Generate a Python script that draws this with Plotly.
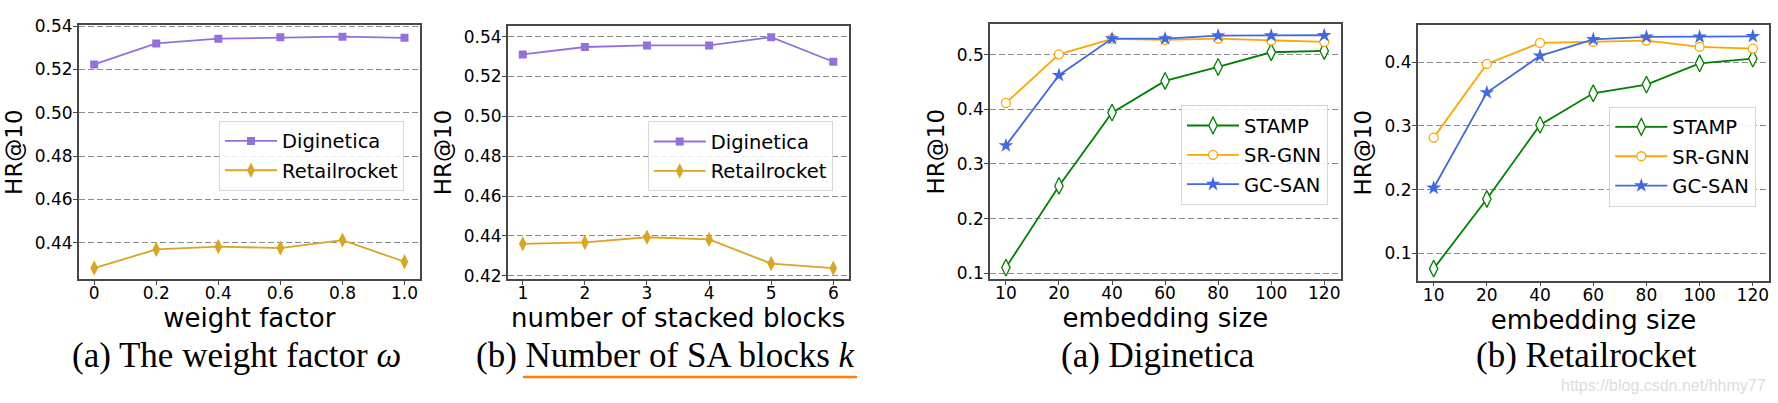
import plotly.graph_objects as go

# ---------------- data ----------------
weight_factor = [0, 0.2, 0.4, 0.6, 0.8, 1.0]
weight_ticktext = ["0", "0.2", "0.4", "0.6", "0.8", "1.0"]
wf_diginetica = [0.5223, 0.5320, 0.5342, 0.5348, 0.5351, 0.5346]
wf_retailrocket = [0.4283, 0.4369, 0.4382, 0.4375, 0.4412, 0.4312]

blocks = [1, 2, 3, 4, 5, 6]
blk_diginetica = [0.5311, 0.5348, 0.5356, 0.5356, 0.5397, 0.5274]
blk_retailrocket = [0.4360, 0.4367, 0.4393, 0.4382, 0.4261, 0.4238]

emb_sizes = ["10", "20", "40", "60", "80", "100", "120"]
dig_stamp = [0.1104, 0.2598, 0.3939, 0.4518, 0.4774, 0.5043, 0.5067]
dig_srgnn = [0.4116, 0.5006, 0.5287, 0.5268, 0.5293, 0.5256, 0.5232]
dig_gcsan = [0.3335, 0.4622, 0.5293, 0.5293, 0.5348, 0.5348, 0.5354]
ret_stamp = [0.0759, 0.1853, 0.3016, 0.3513, 0.3649, 0.3984, 0.4058]
ret_srgnn = [0.2817, 0.3974, 0.4304, 0.4319, 0.4340, 0.4241, 0.4215]
ret_gcsan = [0.2026, 0.3524, 0.4100, 0.4361, 0.4398, 0.4398, 0.4408]

captions = ["(a) The weight factor <i>ω</i>", "(b) Number of SA blocks <i>k</i>",
            "(a) Diginetica", "(b) Retailrocket"]

W, H = 1778, 403
SANS = "DejaVu Sans"
SERIF = "Liberation Serif"
FRAME = "#484848"

def px_x(a, b):
    return [a / W, b / W]

def px_y(top, bottom):
    return [1 - bottom / H, 1 - top / H]

fig = go.Figure()

LW = 1.8
purple, gold = "#9370DB", "#DAA520"
green, orange, blue = "#008000", "#FFA500", "#4169E1"

def add(x, y, name, color, symbol, size, ax, legend, fill=None):
    fig.add_trace(go.Scatter(
        x=x, y=y, name=name, mode="lines+markers",
        line=dict(color=color, width=LW),
        marker=dict(symbol=symbol, size=size, color=fill or color,
                    line=dict(color=color, width=1.3 if fill else 0)),
        xaxis="x" + ax, yaxis="y" + ax, legend=legend,
        legendgroup=name + ax))

add(weight_factor, wf_diginetica, "Diginetica", purple, "square", 8, "", "legend")
add(weight_factor, wf_retailrocket, "Retailrocket", gold, "diamond-tall", 11, "", "legend")
add(blocks, blk_diginetica, "Diginetica", purple, "square", 8, "2", "legend2")
add(blocks, blk_retailrocket, "Retailrocket", gold, "diamond-tall", 11, "2", "legend2")
add(emb_sizes, dig_stamp, "STAMP", green, "diamond-tall", 12, "3", "legend3", fill="white")
add(emb_sizes, dig_srgnn, "SR-GNN", orange, "circle", 9, "3", "legend3", fill="white")
add(emb_sizes, dig_gcsan, "GC-SAN", blue, "star", 11, "3", "legend3")
add(emb_sizes, ret_stamp, "STAMP", green, "diamond-tall", 12, "4", "legend4", fill="white")
add(emb_sizes, ret_srgnn, "SR-GNN", orange, "circle", 9, "4", "legend4", fill="white")
add(emb_sizes, ret_gcsan, "GC-SAN", blue, "star", 11, "4", "legend4")

tickfont = dict(family=SANS, size=17, color="black")
common_x = dict(showline=True, mirror=True, linecolor=FRAME, linewidth=1.5,
                ticks="outside", ticklen=4, tickwidth=1.2, tickcolor=FRAME,
                ticklabelstandoff=-6,
                showgrid=False, zeroline=False, tickfont=tickfont, automargin=False,
                title_font=dict(family=SANS, size=26, color="black"),
                title_standoff=0)
common_y = dict(showline=True, mirror=True, linecolor=FRAME, linewidth=1.5,
                ticks="outside", ticklen=4, tickwidth=1.2, tickcolor=FRAME,
                ticklabelstandoff=-3,
                showgrid=True, gridcolor="#8c8c8c", griddash="6px,3px", gridwidth=1.3,
                zeroline=False, tickfont=tickfont, automargin=False,
                title=dict(text="HR@10", font=dict(family=SANS, size=23, color="black"),
                           standoff=6))

layout = dict(width=W, height=H, margin=dict(l=0, r=0, t=0, b=0, autoexpand=False),
              paper_bgcolor="white", plot_bgcolor="white", showlegend=True)

# panel 1
layout["xaxis"] = dict(common_x, domain=px_x(78.7, 420), range=[-0.05, 1.05],
                       tickvals=weight_factor, ticktext=weight_ticktext,
                       title_text="weight factor", anchor="y")
layout["yaxis"] = dict(common_y, domain=px_y(25, 279.3), range=[0.4231, 0.5405],
                       tickvals=[0.44, 0.46, 0.48, 0.50, 0.52, 0.54], tickformat=".2f",
                       anchor="x")
# panel 2
layout["xaxis2"] = dict(common_x, domain=px_x(507.7, 848.7), range=[0.757, 6.248],
                        tickvals=blocks, title_text="number of stacked blocks", anchor="y2")
layout["yaxis2"] = dict(common_y, domain=px_y(25.7, 279.3), range=[0.4182, 0.5455],
                        tickvals=[0.42, 0.44, 0.46, 0.48, 0.50, 0.52, 0.54], tickformat=".2f",
                        anchor="x2")
# panel 3
layout["xaxis3"] = dict(common_x, domain=px_x(990, 1340.7), range=[-0.3, 6.31],
                        type="category", title_text="embedding size", anchor="y3")
layout["yaxis3"] = dict(common_y, domain=px_y(24, 279.3), range=[0.089, 0.556],
                        tickvals=[0.1, 0.2, 0.3, 0.4, 0.5], tickformat=".1f", anchor="x3")
# panel 4
layout["xaxis4"] = dict(common_x, domain=px_x(1417.7, 1769.3), range=[-0.3, 6.31],
                        type="category", title_text="embedding size", anchor="y4")
layout["yaxis4"] = dict(common_y, domain=px_y(24.7, 280.7), range=[0.057, 0.459],
                        tickvals=[0.1, 0.2, 0.3, 0.4], tickformat=".1f", anchor="x4")

legfont = dict(family=SANS, size=19.5, color="black")
legbase = dict(bgcolor="rgba(255,255,255,0.85)", bordercolor="#d6d6d6", borderwidth=1,
               font=legfont, xanchor="left", yanchor="top", itemwidth=52,
               tracegroupgap=1)
layout["legend"] = dict(legbase, x=219 / W, y=1 - 120.7 / H)
layout["legend2"] = dict(legbase, x=647.7 / W, y=1 - 121.3 / H)
layout["legend3"] = dict(legbase, x=1181 / W, y=1 - 105.3 / H)
layout["legend4"] = dict(legbase, x=1609.3 / W, y=1 - 106.7 / H)

cap_x = [236.7, 665.8, 1158, 1586.7]
layout["annotations"] = [
    dict(text=t, x=cx / W, y=1 - 355 / H, xref="paper", yref="paper",
         xanchor="center", yanchor="middle", showarrow=False,
         font=dict(family=SERIF, size=35, color="black"))
    for t, cx in zip(captions, cap_x)
] + [dict(text="https://blog.csdn.net/hhmy77", x=1768 / W, y=1 - 385 / H,
          xref="paper", yref="paper", xanchor="right", yanchor="middle",
          showarrow=False, font=dict(family="Liberation Sans", size=16, color="#dcdcdc"))]

layout["shapes"] = [dict(type="line", xref="paper", yref="paper",
                         x0=523 / W, x1=857 / W, y0=1 - 377 / H, y1=1 - 377 / H,
                         line=dict(color="#FF8000", width=2.5))]

fig.update_layout(layout)
fig.write_html("out.html", config={"displayModeBar": False},
               post_script="document.body.style.margin='0';document.body.style.overflow='hidden';")
